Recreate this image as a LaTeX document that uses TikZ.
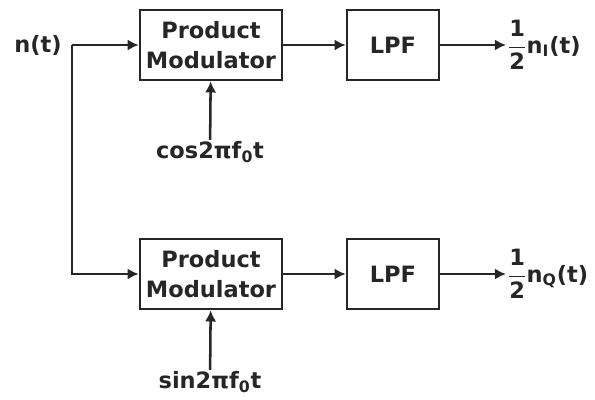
\documentclass[tikz,border=0pt]{standalone}
\usepackage{amsmath}
\usepackage{fontspec}
\setmainfont{DejaVu Sans}
\usepackage{tikz}
\usetikzlibrary{positioning, arrows.meta, calc}
\tikzset{
  prodmod/.style={rectangle, minimum width=3.55cm, minimum height=1.75cm, align=center, draw=black!85, line width=1.8pt, font=\sigfont},
  lowpass/.style={rectangle, minimum width=2.3cm, minimum height=1.75cm, align=center, draw=black!85, line width=1.8pt, font=\sigfont},
  sig/.style={font=\sigfont, text=black!85, inner sep=1pt},
  arrow/.style={draw=black!85, line width=1.8pt, -{Latex[length=2.8mm, width=2.8mm]}}
}
\newcommand{\sigfont}{\fontsize{16}{21}\selectfont\bfseries}

\begin{document}
\begin{tikzpicture}

        \useasboundingbox (0,0) rectangle (14.875,-9.975);

        % entrada y punto de bifurcacion
        \node[sig] (nt) at (0.95,-1.125) {n(t)};
        \coordinate (split) at (1.8,-1.125);

        % rama superior (fase)
        \node[prodmod, text=black!85] (pmI) at (5.275,-1.125) {Product\\Modulator};
        \node[lowpass, text=black!85] (lpfI) at (9.825,-1.125) {LPF};
        \node[sig] (cosin) at (5.25,-3.8) {cos2πf\textsubscript{0}t};
        \node[sig, anchor=west] (outI) at (12.65,-1.125) {$\dfrac{\text{1}}{\text{2}}$n\textsubscript{I}(t)};

        % rama inferior (cuadratura)
        \node[prodmod, text=black!85] (pmQ) at (5.275,-6.85) {Product\\Modulator};
        \node[lowpass, text=black!85] (lpfQ) at (9.825,-6.85) {LPF};
        \node[sig] (sinin) at (5.25,-9.55) {sin2πf\textsubscript{0}t};
        \node[sig, anchor=west] (outQ) at (12.65,-6.85) {$\dfrac{\text{1}}{\text{2}}$n\textsubscript{Q}(t)};

        % conexiones
        \draw[arrow] (split) -- (pmI.west);
        \draw[arrow] (split) |- (pmQ.west);
        \draw[arrow] (pmI) -- (lpfI);
        \draw[arrow] (pmQ) -- (lpfQ);
        \draw[arrow] (lpfI) -- (outI);
        \draw[arrow] (lpfQ) -- (outQ);
        \draw[arrow] (cosin) -- (pmI);
        \draw[arrow] (sinin) -- (pmQ);

    \end{tikzpicture}
\end{document}
